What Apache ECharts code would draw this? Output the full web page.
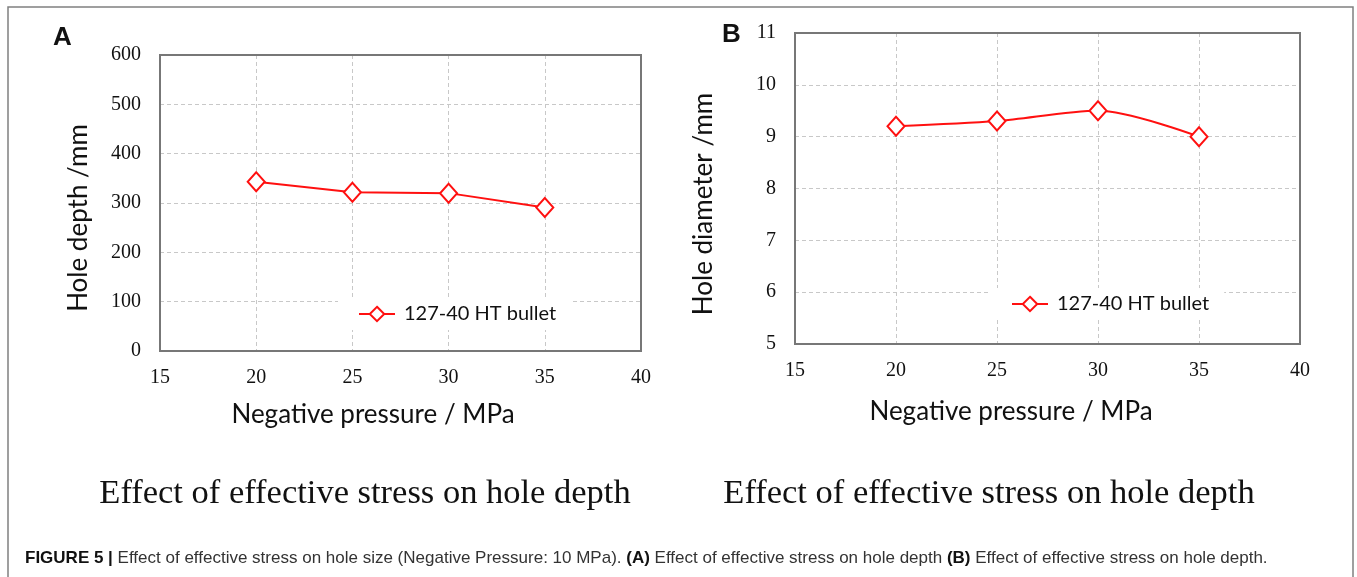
<!DOCTYPE html>
<html><head><meta charset="utf-8">
<script src="https://cdn.jsdelivr.net/npm/echarts@6/dist/echarts.min.js"></script>
<style>html,body{margin:0;padding:0;background:#fff}#c{width:1357px;height:577px}</style>
</head><body><div id="c"></div>
<script>
// ---- data ----
const pressure = [20, 25, 30, 35];
const holeDepth = [343, 322, 320, 291];
const holeDiameter = [9.2, 9.3, 9.5, 9.0];
const seriesName = '127-40 HT bullet';
const xTitle = 'Negative pressure / MPa';
const yTitleA = 'Hole depth /mm';
const yTitleB = 'Hole diameter /mm';
const subTitle = 'Effect of effective stress on hole depth';

const chart = echarts.init(document.getElementById('c'), null, {renderer: 'canvas'});
const serif = '"Liberation Serif", "Times New Roman", serif';
const sans = 'Lato, "Open Sans", sans-serif';
const gridLine = {show: true, showMinLine: false, showMaxLine: false, lineStyle: {color: '#c8c8c8', type: [4, 3], width: 1}};

function xAxis(gi) {
  return {
    type: 'value', gridIndex: gi, min: 15, max: 40, interval: 5,
    axisLine: {show: false}, axisTick: {show: false},
    splitLine: gridLine,
    axisLabel: {fontFamily: serif, fontSize: 20, color: '#111', margin: 17}
  };
}
function yAxis(gi, min, max, interval) {
  return {
    type: 'value', gridIndex: gi, min: min, max: max, interval: interval,
    axisLine: {show: false}, axisTick: {show: false},
    splitLine: gridLine,
    axisLabel: {fontFamily: serif, fontSize: 20, color: '#111', margin: 19}
  };
}
function series(gi, values, smooth) {
  return {
    name: seriesName, type: 'line', xAxisIndex: gi, yAxisIndex: gi,
    data: pressure.map((p, i) => [p, values[i]]),
    smooth: smooth,
    symbol: 'diamond', symbolSize: [17, 19],
    lineStyle: {color: '#ff1010', width: 2},
    itemStyle: {color: '#fff', borderColor: '#ff1010', borderWidth: 2},
    z: 5
  };
}
function legend(left, top) {
  return {
    data: [seriesName], left: left, top: top,
    backgroundColor: '#fff', padding: [6, 15, 6, 20],
    itemWidth: 36, itemHeight: 18, itemGap: 10,
    textStyle: {fontFamily: sans, fontSize: 20, color: '#111', padding: [0, 0, 0, 4]},
    selectedMode: false, z: 3
  };
}
function title(text, x, y, rot) {
  return {type: 'text', x: x, y: y, rotation: rot, z: 10,
    style: {text: text, font: '26px Lato, "Open Sans", sans-serif', fill: '#111', align: 'center', verticalAlign: 'middle'}};
}

chart.setOption({
  animation: false,
  backgroundColor: '#fff',
  grid: [
    {left: 160, right: 716, top: 55, bottom: 226, show: true, borderColor: '#777', borderWidth: 2, backgroundColor: 'transparent', z: 4},
    {left: 795, right: 57, top: 33, bottom: 233, show: true, borderColor: '#777', borderWidth: 2, backgroundColor: 'transparent', z: 4}
  ],
  xAxis: [xAxis(0), xAxis(1)],
  yAxis: [yAxis(0, 0, 600, 100), yAxis(1, 5, 11, 1)],
  legend: [legend(338, 298), legend(991, 288)],
  series: [series(0, holeDepth, false), series(1, holeDiameter, 0.3)],
  graphic: [
    {type: 'rect', shape: {x: 8, y: 7, width: 1345, height: 600}, style: {fill: 'none', stroke: '#808080', lineWidth: 1.5}, silent: true},
    {type: 'text', x: 53, y: 25, style: {text: 'A', font: 'bold 26px "Liberation Sans", Arial, sans-serif', fill: '#111'}},
    {type: 'text', x: 722, y: 22, style: {text: 'B', font: 'bold 26px "Liberation Sans", Arial, sans-serif', fill: '#111'}},
    title(yTitleA, 79, 218, Math.PI / 2),
    title(yTitleB, 704, 204, Math.PI / 2),
    title(xTitle, 373, 415, 0),
    title(xTitle, 1011, 412, 0),
    {type: 'text', x: 365, y: 494, style: {text: subTitle, font: '34.5px "Liberation Serif", serif', fill: '#111', align: 'center', verticalAlign: 'middle'}},
    {type: 'text', x: 989, y: 494, style: {text: subTitle, font: '34.5px "Liberation Serif", serif', fill: '#111', align: 'center', verticalAlign: 'middle'}},
    {type: 'text', x: 25, y: 558, style: {
      text: '{b|FIGURE 5 | }{n|Effect of effective stress on hole size (Negative Pressure: 10 MPa). }{b|(A)}{n| Effect of effective stress on hole depth }{b|(B)}{n| Effect of effective stress on hole depth.}',
      verticalAlign: 'middle',
      rich: {
        b: {fontFamily: '"Liberation Sans", Arial, sans-serif', fontWeight: 'bold', fontSize: 17, fill: '#111'},
        n: {fontFamily: '"Liberation Sans", Arial, sans-serif', fontSize: 17, fill: '#333'}
      }
    }}
  ]
});
</script></body></html>
